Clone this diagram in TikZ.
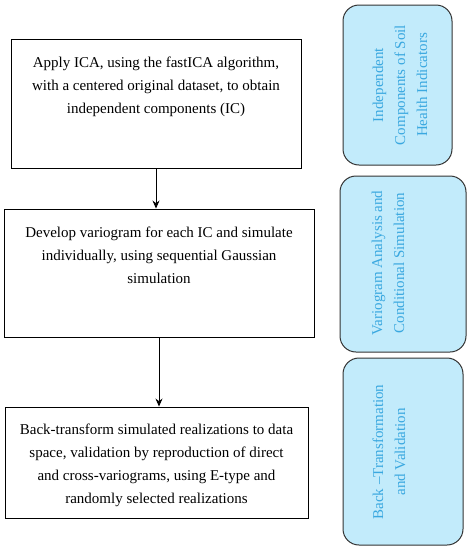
\documentclass[tikz,border=0pt]{standalone}
\usepackage{fontspec}
\setmainfont{Liberation Serif}
\usetikzlibrary{arrows.meta}
\definecolor{pale}{RGB}{194,235,251}
\definecolor{ink}{RGB}{58,168,224}
\tikzset{
  stepbox/.style={draw=black, line width=0.9pt, inner sep=0pt},
  steptext/.style={align=center, font=\fontsize{15}{23}\selectfont, inner sep=0pt},
  phase/.style={draw=black!80, line width=1pt, fill=pale, rounded corners=16pt, inner sep=0pt},
  phasetext/.style={align=center, rotate=90, text=ink, font=\fontsize{15}{22}\selectfont, inner sep=0pt},
  arr/.style={-{Stealth[length=8pt,width=7pt]}, line width=0.9pt}
}
\begin{document}
\begin{tikzpicture}[x=1pt,y=-1pt]
\useasboundingbox (0,0) rectangle (470,550);
% left boxes
\node[stepbox, minimum width=290pt, minimum height=129pt] (b1) at (156,103.5) {};
\node[steptext, anchor=north] (t1) at (156,57) {Apply ICA, using the fastICA algorithm,\\with a centered original dataset, to obtain\\independent components (IC)};
\node[stepbox, minimum width=310pt, minimum height=128pt] (b2) at (159,273) {};
\node[steptext, anchor=north] (t2) at (159,227) {Develop variogram for each IC and simulate\\individually, using sequential Gaussian\\simulation};
\node[stepbox, minimum width=303pt, minimum height=111pt] (b3) at (156.5,462.5) {};
\node[steptext, anchor=north] (t3) at (156.5,424) {Back-transform simulated realizations to data\\space, validation by reproduction of direct\\and cross-variograms, using E-type and\\randomly selected realizations};
% arrows
\draw[arr] (b1.south) -- (b1.south |- b2.north);
\draw[arr] (b2.south) -- (b2.south |- b3.north);
% right phase boxes
\node[phase, minimum width=109pt, minimum height=160pt] (pA) at (397.5,85) {};
\node[phasetext] (qA) at (400,85) {Independent\\Components of Soil\\Health Indicators};
\node[phase, minimum width=126pt, minimum height=176pt] (pB) at (403,264) {};
\node[phasetext] (qB) at (388,263) {Variogram Analysis and\\Conditional Simulation};
\node[phase, minimum width=120pt, minimum height=187pt] (pC) at (403,451.5) {};
\node[phasetext] (qC) at (389,452) {Back --Transformation\\and Validation};
\end{tikzpicture}
\end{document}
